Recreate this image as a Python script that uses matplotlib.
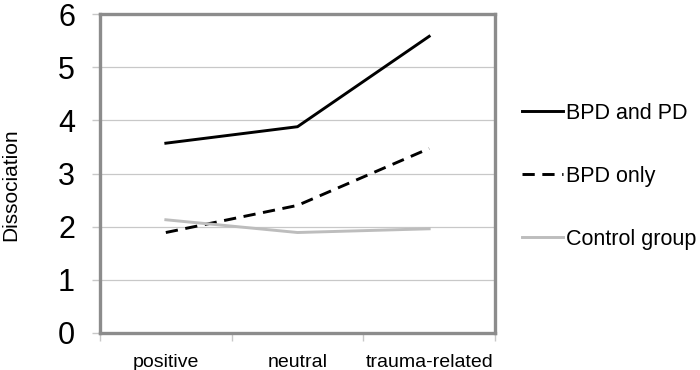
import matplotlib.pyplot as plt

plt.rcParams['font.family'] = ['Liberation Sans', 'DejaVu Sans']

# data
conditions = ['positive', 'neutral', 'trauma-related']
bpd_pd = [3.57, 3.88, 5.58]
bpd_only = [1.89, 2.40, 3.47]
control = [2.13, 1.89, 1.96]

fig = plt.figure(figsize=(7, 3.7), dpi=100)
ax = fig.add_axes([100 / 700, 37 / 370, 395 / 700, 319 / 370])

x = range(len(conditions))
ax.plot(x, bpd_pd, color='black', lw=2.1, label='BPD and PD')
ax.plot(x, bpd_only, color='black', lw=2.1, linestyle=(0, (4.2, 2.6)), label='BPD only')
ax.plot(x, control, color='#bdbdbd', lw=2.1, label='Control group')

ax.set_xlim(-0.5, 2.5)
ax.set_ylim(0, 6)
ax.set_yticks(range(7))
ax.grid(axis='y', color='#c8c8c8', lw=0.9)
ax.set_axisbelow(True)

ax.set_xticks(list(x))
ax.set_xticklabels(conditions, fontsize=14)
ax.set_xticks([-0.5, 0.5, 1.5, 2.5], minor=True)
ax.tick_params(axis='x', which='major', length=0, pad=15)
ax.tick_params(axis='x', which='minor', length=6, color='#c8c8c8', width=1)
ax.tick_params(axis='y', length=6, color='#c8c8c8', width=1, labelsize=22, pad=12)

for s in ax.spines.values():
    s.set_color('#8c8c8c')
    s.set_linewidth(2.4)

fig.text(11 / 700, (370 - 185) / 370, 'Dissociation', rotation=90, fontsize=15,
         ha='center', va='center')

ax.legend(loc='upper left', bbox_to_anchor=(522 / 700, (370 - 103) / 370),
          bbox_transform=fig.transFigure, frameon=False, fontsize=15.5,
          handlelength=1.9, handletextpad=0.15, labelspacing=1.95,
          borderpad=0, borderaxespad=0)

fig.savefig('out.png', dpi=100)
